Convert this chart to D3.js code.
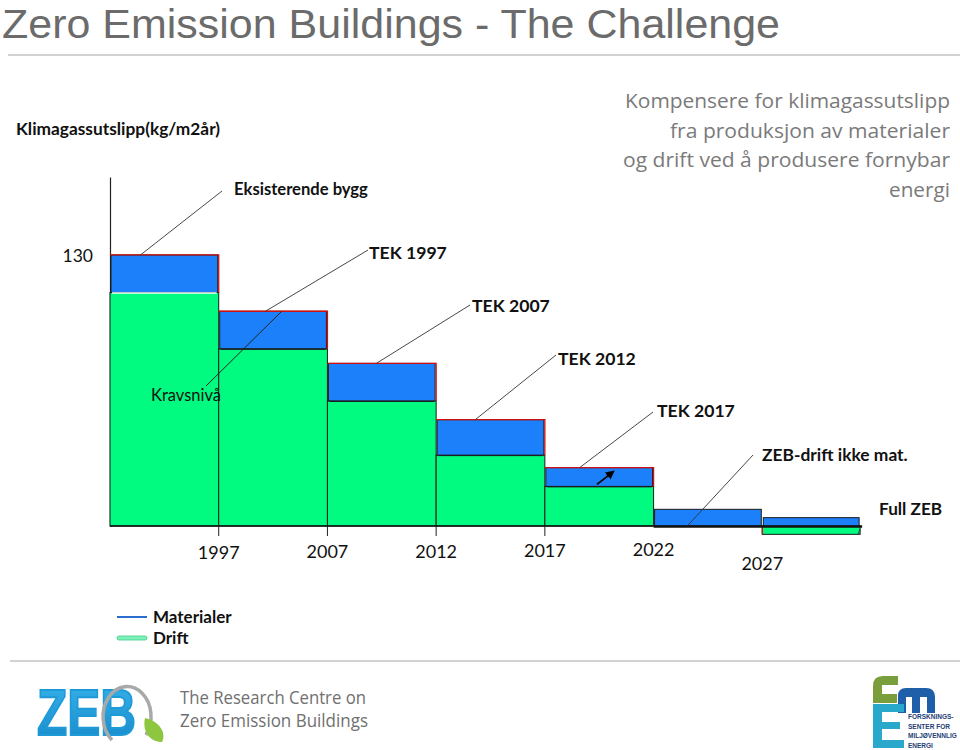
<!DOCTYPE html>
<html><head><meta charset="utf-8">
<script src="https://cdn.jsdelivr.net/npm/d3@7"></script>
<style>
html,body{margin:0;padding:0;background:#fff;}
svg{display:block;}
</style></head>
<body>
<svg id="chart" width="960" height="750"></svg>
<script>
// ---- data ----
const categories = ["Eksisterende bygg","TEK 1997","TEK 2007","TEK 2012","TEK 2017","ZEB-drift ikke mat.","Full ZEB"];
const drift      = [112, 85, 60, 34, 19, 0, -4];
const materialer = [18, 18, 18, 17, 9, 8, 4];
const yearLabels = ["1997","2007","2012","2017","2022","2027"];
const yTicks = [130];
const yTitle = "Klimagassutslipp(kg/m2år)";
const legendItems = ["Materialer","Drift"];
const sideText = ["Kompensere for klimagassutslipp","fra produksjon av materialer","og drift ved å produsere fornybar","energi"];

const svg = d3.select("#chart");
const BLUE = "#1c80fb", GREEN = "#00fb80";
const labelFont = "Lato, 'DejaVu Sans', sans-serif";
const defs = svg.append("defs");

// ---- header ----
svg.append("text").attr("x",2).attr("y",38)
  .attr("font-family","'Liberation Sans', Arial, sans-serif").attr("font-size",41)
  .attr("fill","#6b6b6b").attr("textLength",778).attr("lengthAdjust","spacingAndGlyphs")
  .text("Zero Emission Buildings - The Challenge");
svg.append("line").attr("x1",8).attr("x2",960).attr("y1",55).attr("y2",55)
  .attr("stroke","#d2d2d2").attr("stroke-width",2);

const sideW = [325, 280, 327, 61];
sideText.forEach((t,i)=>{
  svg.append("text").attr("x",950).attr("y",108+i*29.5).attr("text-anchor","end")
    .attr("font-family","'Open Sans', sans-serif").attr("font-size",20.5).attr("fill","#7a7a7a")
    .attr("textLength",sideW[i]).attr("lengthAdjust","spacingAndGlyphs").text(t);
});

// ---- scales ----
const x = d3.scaleBand().domain(categories).range([110, 871]).paddingInner(0).paddingOuter(0);
const bw = x.bandwidth();
const y = d3.scaleLinear().domain([0, 167.4]).range([526, 177]);
const barW = (i)=> i === categories.length-1 ? bw*0.9 : bw;

// ---- axes ----
const yAxis = svg.append("g").attr("transform","translate(110,0)")
  .call(d3.axisLeft(y).tickValues(yTicks).tickSize(0).tickPadding(17).tickSizeOuter(0));
yAxis.select(".domain").attr("stroke","#222").attr("stroke-width",1.2);
yAxis.selectAll("text").attr("font-family",labelFont).attr("font-size",17.5).attr("fill","#111").attr("dy","0.4em");

svg.append("text").attr("x",16).attr("y",135).attr("font-family",labelFont).attr("font-weight","bold")
  .attr("font-size",17).attr("fill","#111").attr("textLength",204).attr("lengthAdjust","spacingAndGlyphs").text(yTitle);

// ---- bars ----
const g = svg.append("g");
categories.forEach((c,i)=>{
  const d = drift[i], m = materialer[i];
  const x0 = x(c), w = barW(i);
  if (d !== 0) {
    g.append("rect").attr("x",x0).attr("width",w)
      .attr("y", y(Math.max(d,0))).attr("height", Math.abs(y(d)-y(0)))
      .attr("fill",GREEN).attr("stroke","#1a1a1a").attr("stroke-width",1);
  }
  const base = Math.max(d,0);
  g.append("rect").attr("x",x0+1).attr("width",w-2)
    .attr("y", y(base+m)).attr("height", y(base)-y(base+m))
    .attr("fill",BLUE).attr("stroke","#1a1a1a").attr("stroke-width",1);
  if (i < 5) {
    g.append("path").attr("d",`M${x0},${y(base+m)}H${x0+w}V${y(base)}`)
      .attr("fill","none").attr("stroke","#d01010").attr("stroke-width",1.3);
    g.append("line").attr("x1",x0+2).attr("x2",x0+w-2).attr("y1",y(base)+0.5).attr("y2",y(base)+0.5)
      .attr("stroke",i===0?"#fff":"#1a1a1a").attr("stroke-width",i===0?1.5:1);
  }
  if (d < 0) {
    g.append("line").attr("x1",x0).attr("x2",x0).attr("y1",y(0)).attr("y2",y(d))
      .attr("stroke","#d01010").attr("stroke-width",1.3);
  }
});
svg.append("line").attr("x1",110).attr("x2",x(categories[5])).attr("y1",y(0)).attr("y2",y(0))
  .attr("stroke","#111").attr("stroke-width",1.5);
svg.append("line").attr("x1",x(categories[5])).attr("x2",x(categories[6])+barW(6)+2).attr("y1",y(0)+0.5).attr("y2",y(0)+0.5)
  .attr("stroke","#111").attr("stroke-width",2.5);

// x ticks & year labels
const yearDy = [0,-1,-1,-2,-3,11];
yearLabels.forEach((t,i)=>{
  const xx = x(categories[i+1]);
  if (i < 4) svg.append("line").attr("x1",xx).attr("x2",xx).attr("y1",y(0)).attr("y2",y(0)+10)
    .attr("stroke","#222").attr("stroke-width",1);
  svg.append("text").attr("x",xx).attr("y",559+yearDy[i]).attr("text-anchor","middle")
    .attr("font-family",labelFont).attr("font-size",18).attr("fill","#111").text(t);
});

// ---- annotations ----
const ann = [
  {i:0, f:0.28, ex:222, ey:191, lx:234, ly:195},
  {i:1, f:0.43, ex:368, ey:250, lx:369, ly:259},
  {i:2, f:0.45, ex:470, ey:305, lx:472, ly:312},
  {i:3, f:0.36, ex:556, ey:355, lx:558, ly:365},
  {i:4, f:0.32, ex:653, ey:412, lx:657, ly:417},
  {i:5, f:0.31, ex:753, ey:455, lx:762, ly:461, atBase:true},
  {i:6, f:0.88, ex:860, ey:529, lx:879, ly:515, atBase:true, neg:true}
];
const annSize = [16.6, 17.6, 17.6, 17.6, 17.6, 17.4, 17.2];
ann.forEach((a,k)=>{
  const c = categories[a.i];
  const sx = x(c)+a.f*bw;
  const sy = a.neg ? y(drift[a.i]) : (a.atBase ? y(0) : y(Math.max(drift[a.i],0)+materialer[a.i]));
  svg.append("line").attr("x1",sx).attr("y1",sy).attr("x2",a.ex).attr("y2",a.ey)
    .attr("stroke","#333").attr("stroke-width",0.9);
  svg.append("text").attr("x",a.lx).attr("y",a.ly).attr("font-family",labelFont).attr("font-weight","bold")
    .attr("font-size",annSize[k]).attr("fill","#111").text(c);
});
// Kravsnivå
svg.append("line").attr("x1",x(categories[1])+0.58*bw).attr("y1",y(drift[1]+materialer[1]))
  .attr("x2",206).attr("y2",386).attr("stroke","#222").attr("stroke-width",1);
svg.append("text").attr("x",151).attr("y",401).attr("font-family",labelFont).attr("font-size",16.5)
  .attr("fill","#111").text("Kravsnivå");
// arrow in TEK 2017 bar
defs.append("marker").attr("id","ah").attr("viewBox","0 0 10 10").attr("refX",8).attr("refY",5)
  .attr("markerWidth",5).attr("markerHeight",5).attr("orient","auto")
  .append("path").attr("d","M0,0L10,5L0,10z").attr("fill","#000");
svg.append("line").attr("x1",x(categories[4])+0.48*bw).attr("y1",y(drift[4])-2)
  .attr("x2",x(categories[4])+0.63*bw).attr("y2",y(drift[4]+materialer[4])+4)
  .attr("stroke","#000").attr("stroke-width",1.8).attr("marker-end","url(#ah)");

// ---- legend ----
legendItems.forEach((t,i)=>{
  const ly = 617 + i*21;
  if (i===0) svg.append("line").attr("x1",117).attr("x2",147).attr("y1",ly).attr("y2",ly).attr("stroke","#2a6fd0").attr("stroke-width",2);
  else svg.append("rect").attr("x",117).attr("y",ly-2).attr("width",30).attr("height",4).attr("rx",2)
    .attr("fill","#7ff0b8").attr("stroke","#3ccf8a").attr("stroke-width",0.8);
  svg.append("text").attr("x",153).attr("y",ly+6).attr("font-family",labelFont).attr("font-weight","bold")
    .attr("font-size",17).attr("fill","#111").text(t);
});

// ---- footer ----
svg.append("line").attr("x1",10).attr("x2",960).attr("y1",661).attr("y2",661).attr("stroke","#d2d2d2").attr("stroke-width",2);
const zg = svg.append("g");
const grad = defs.append("linearGradient").attr("id","zebg").attr("x1",0).attr("x2",0).attr("y1",0).attr("y2",1);
grad.append("stop").attr("offset","0").attr("stop-color","#39b4ea");
grad.append("stop").attr("offset","1").attr("stop-color","#1487c9");
zg.append("text").attr("x",37).attr("y",735).attr("font-family","'Liberation Sans', Arial, sans-serif")
  .attr("font-weight","bold").attr("font-size",64).attr("fill","url(#zebg)")
  .attr("stroke","#1f9ad8").attr("stroke-width",2)
  .attr("textLength",99).attr("lengthAdjust","spacingAndGlyphs").text("ZEB");
zg.append("path").attr("d","M112,740 A24,30 0 1 1 146,735")
  .attr("fill","none").attr("stroke","#a9a9a9").attr("stroke-width",3.5);
zg.append("path").attr("d","M145,718 C162,722 166,735 162,742 C150,742 142,732 145,718 Z").attr("fill","#8dc63f");
svg.append("text").attr("x",180).attr("y",704).attr("font-family","'Open Sans', sans-serif").attr("font-size",18.5)
  .attr("fill","#707070").attr("textLength",186).attr("lengthAdjust","spacingAndGlyphs").text("The Research Centre on");
svg.append("text").attr("x",180).attr("y",727).attr("font-family","'Open Sans', sans-serif").attr("font-size",18.5)
  .attr("fill","#707070").attr("textLength",188).attr("lengthAdjust","spacingAndGlyphs").text("Zero Emission Buildings");

// FME logo
const fg = svg.append("g");
fg.append("path").attr("d","M873,703 V686 Q873,676 883,676 H898 V685 H882 V694 H897 V703 Z").attr("fill","#7a9e3b");
fg.append("path").attr("d","M898,713 V696 Q898,688 906,688 H926 Q935,688 935,697 V713 H927 V697 H920 V713 H912 V697 H906 V713 Z").attr("fill","#1f5ea8");
fg.append("path").attr("d","M873,748 V704 H904 V712 H882 V722 H900 V729 H882 V740 H904 V748 Z").attr("fill","#2aa8cc");
["FORSKNINGS-","SENTER FOR","MILJØVENNLIG","ENERGI"].forEach((t,i)=>{
  fg.append("text").attr("x",908).attr("y",719+i*9.5).attr("font-family","'Liberation Sans', sans-serif")
    .attr("font-weight","bold").attr("font-size",6.5).attr("fill","#1d3e74").text(t);
});
</script>
</body></html>
